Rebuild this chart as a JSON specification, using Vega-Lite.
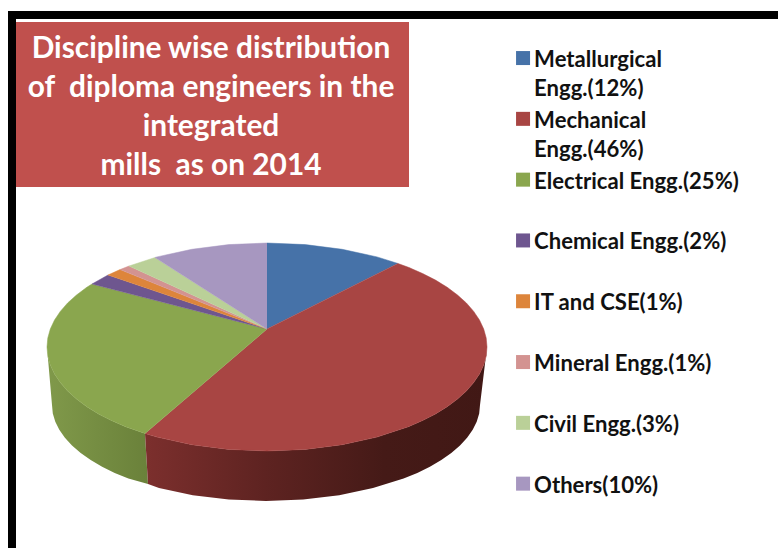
{"$schema":"https://vega.github.io/schema/vega-lite/v6.json","width":778,"height":548,"padding":0,"autosize":{"type":"none"},"background":"white","view":{"stroke":null},
"title":{"text":["Discipline wise distribution","\u00a0\u00a0of\u00a0\u00a0diploma engineers in the","integrated","mills\u00a0\u00a0as on 2014"],"anchor":"start","align":"center","dx":211,"offset":-181,"baseline":"top","color":"white","font":"Lato","fontWeight":"bold","fontSize":29.85,"lineHeight":39,"zindex":1},
"datasets":{
"slices":[
{"part":"Metallurgical Engg.(12%)","seq":0,"x":267,"y":329},{"part":"Metallurgical Engg.(12%)","seq":1,"x":267,"y":243},{"part":"Metallurgical Engg.(12%)","seq":2,"x":305.2,"y":244.6},{"part":"Metallurgical Engg.(12%)","seq":3,"x":342.2,"y":249.3},{"part":"Metallurgical Engg.(12%)","seq":4,"x":377,"y":256.9},{"part":"Metallurgical Engg.(12%)","seq":5,"x":398,"y":263.5},
{"part":"Mechanical Engg.(46%)","seq":0,"x":267,"y":329},{"part":"Mechanical Engg.(46%)","seq":1,"x":398,"y":263.5},{"part":"Mechanical Engg.(46%)","seq":2,"x":408.4,"y":267.3},{"part":"Mechanical Engg.(46%)","seq":2.5,"x":422.6,"y":273.5},{"part":"Mechanical Engg.(46%)","seq":3,"x":435.5,"y":280.1},{"part":"Mechanical Engg.(46%)","seq":3.5,"x":447.2,"y":287.3},{"part":"Mechanical Engg.(46%)","seq":4,"x":457.5,"y":295},{"part":"Mechanical Engg.(46%)","seq":4.5,"x":466.4,"y":303},{"part":"Mechanical Engg.(46%)","seq":5,"x":473.7,"y":311.4},{"part":"Mechanical Engg.(46%)","seq":5.5,"x":479.5,"y":320.1},{"part":"Mechanical Engg.(46%)","seq":6,"x":483.7,"y":329},{"part":"Mechanical Engg.(46%)","seq":6.5,"x":486.2,"y":337.9},{"part":"Mechanical Engg.(46%)","seq":7,"x":487,"y":347},{"part":"Mechanical Engg.(46%)","seq":7.5,"x":486.2,"y":356.1},{"part":"Mechanical Engg.(46%)","seq":8,"x":483.7,"y":365},{"part":"Mechanical Engg.(46%)","seq":8.5,"x":479.5,"y":373.9},{"part":"Mechanical Engg.(46%)","seq":9,"x":473.7,"y":382.6},{"part":"Mechanical Engg.(46%)","seq":9.5,"x":466.4,"y":391},{"part":"Mechanical Engg.(46%)","seq":10,"x":457.5,"y":399},{"part":"Mechanical Engg.(46%)","seq":10.5,"x":447.2,"y":406.7},{"part":"Mechanical Engg.(46%)","seq":11,"x":435.5,"y":413.9},{"part":"Mechanical Engg.(46%)","seq":11.5,"x":422.6,"y":420.5},{"part":"Mechanical Engg.(46%)","seq":12,"x":408.4,"y":426.7},{"part":"Mechanical Engg.(46%)","seq":13,"x":377,"y":437.1},{"part":"Mechanical Engg.(46%)","seq":14,"x":342.2,"y":444.7},{"part":"Mechanical Engg.(46%)","seq":15,"x":305.2,"y":449.4},{"part":"Mechanical Engg.(46%)","seq":16,"x":267,"y":451},{"part":"Mechanical Engg.(46%)","seq":17,"x":228.8,"y":449.4},{"part":"Mechanical Engg.(46%)","seq":18,"x":191.8,"y":444.7},{"part":"Mechanical Engg.(46%)","seq":19,"x":157,"y":437.1},{"part":"Mechanical Engg.(46%)","seq":20,"x":145,"y":433.5},
{"part":"Electrical Engg.(25%)","seq":0,"x":267,"y":329},{"part":"Electrical Engg.(25%)","seq":1,"x":145,"y":433.5},{"part":"Electrical Engg.(25%)","seq":2,"x":125.6,"y":426.7},{"part":"Electrical Engg.(25%)","seq":2.5,"x":111.4,"y":420.5},{"part":"Electrical Engg.(25%)","seq":3,"x":98.5,"y":413.9},{"part":"Electrical Engg.(25%)","seq":3.5,"x":86.8,"y":406.7},{"part":"Electrical Engg.(25%)","seq":4,"x":76.5,"y":399},{"part":"Electrical Engg.(25%)","seq":4.5,"x":67.6,"y":391},{"part":"Electrical Engg.(25%)","seq":5,"x":60.3,"y":382.6},{"part":"Electrical Engg.(25%)","seq":5.5,"x":54.5,"y":373.9},{"part":"Electrical Engg.(25%)","seq":6,"x":50.3,"y":365},{"part":"Electrical Engg.(25%)","seq":6.5,"x":47.8,"y":356.1},{"part":"Electrical Engg.(25%)","seq":7,"x":47,"y":347},{"part":"Electrical Engg.(25%)","seq":7.5,"x":47.8,"y":337.9},{"part":"Electrical Engg.(25%)","seq":8,"x":50.3,"y":329},{"part":"Electrical Engg.(25%)","seq":8.5,"x":54.5,"y":320.1},{"part":"Electrical Engg.(25%)","seq":9,"x":60.3,"y":311.4},{"part":"Electrical Engg.(25%)","seq":9.5,"x":67.6,"y":303},{"part":"Electrical Engg.(25%)","seq":10,"x":76.5,"y":295},{"part":"Electrical Engg.(25%)","seq":10.5,"x":86.8,"y":287.3},{"part":"Electrical Engg.(25%)","seq":11,"x":92,"y":284},
{"part":"Chemical Engg.(2%)","seq":0,"x":267,"y":329},{"part":"Chemical Engg.(2%)","seq":1,"x":92,"y":284},{"part":"Chemical Engg.(2%)","seq":2,"x":108,"y":275},
{"part":"IT and CSE(1%)","seq":0,"x":267,"y":329},{"part":"IT and CSE(1%)","seq":1,"x":108,"y":275},{"part":"IT and CSE(1%)","seq":2,"x":120,"y":269.6},
{"part":"Mineral Engg.(1%)","seq":0,"x":267,"y":329},{"part":"Mineral Engg.(1%)","seq":1,"x":120,"y":269.6},{"part":"Mineral Engg.(1%)","seq":2,"x":129,"y":266},
{"part":"Civil Engg.(3%)","seq":0,"x":267,"y":329},{"part":"Civil Engg.(3%)","seq":1,"x":129,"y":266},{"part":"Civil Engg.(3%)","seq":2,"x":155,"y":257.5},
{"part":"Others(10%)","seq":0,"x":267,"y":329},{"part":"Others(10%)","seq":1,"x":155,"y":257.5},{"part":"Others(10%)","seq":2,"x":157,"y":256.9},{"part":"Others(10%)","seq":3,"x":191.8,"y":249.3},{"part":"Others(10%)","seq":4,"x":228.8,"y":244.6},{"part":"Others(10%)","seq":5,"x":267,"y":243}
],
"wallGreen":[
{"seq":0,"x":47,"y":347},{"seq":0.5,"x":47.8,"y":356.1},{"seq":1,"x":50.3,"y":365},{"seq":1.5,"x":54.5,"y":373.9},{"seq":2,"x":60.3,"y":382.6},{"seq":2.5,"x":67.6,"y":391},{"seq":3,"x":76.5,"y":399},{"seq":3.5,"x":86.8,"y":406.7},{"seq":4,"x":98.5,"y":413.9},{"seq":4.5,"x":111.4,"y":420.5},{"seq":5,"x":125.6,"y":426.7},{"seq":6,"x":145,"y":433.5},{"seq":7,"x":148,"y":484},{"seq":8,"x":128.4,"y":478.5},{"seq":8.5,"x":114.7,"y":472.9},{"seq":9,"x":102.1,"y":466.7},{"seq":9.5,"x":90.7,"y":460.1},{"seq":10,"x":80.7,"y":453},{"seq":10.5,"x":72,"y":445.6},{"seq":11,"x":64.9,"y":437.8},{"seq":11.5,"x":59.3,"y":429.8},{"seq":12,"x":55.3,"y":421.7},{"seq":12.5,"x":52.8,"y":413.4},{"seq":13,"x":52,"y":405}
],
"wallRed":[
{"seq":0,"x":145,"y":433.5},{"seq":1,"x":157,"y":437.1},{"seq":2,"x":191.8,"y":444.7},{"seq":3,"x":228.8,"y":449.4},{"seq":4,"x":267,"y":451},{"seq":5,"x":305.2,"y":449.4},{"seq":6,"x":342.2,"y":444.7},{"seq":7,"x":377,"y":437.1},{"seq":8,"x":408.4,"y":426.7},{"seq":8.5,"x":422.6,"y":420.5},{"seq":9,"x":435.5,"y":413.9},{"seq":9.5,"x":447.2,"y":406.7},{"seq":10,"x":457.5,"y":399},{"seq":10.5,"x":466.4,"y":391},{"seq":11,"x":473.7,"y":382.6},{"seq":11.5,"x":479.5,"y":373.9},{"seq":12,"x":483.7,"y":365},{"seq":12.5,"x":486.2,"y":356.1},{"seq":13,"x":487,"y":347},{"seq":14,"x":480,"y":405},{"seq":14.5,"x":479.2,"y":413.4},{"seq":15,"x":476.7,"y":421.7},{"seq":15.5,"x":472.7,"y":429.8},{"seq":16,"x":467.1,"y":437.8},{"seq":16.5,"x":460,"y":445.6},{"seq":17,"x":451.3,"y":453},{"seq":17.5,"x":441.3,"y":460.1},{"seq":18,"x":429.9,"y":466.7},{"seq":18.5,"x":417.3,"y":472.9},{"seq":19,"x":403.6,"y":478.5},{"seq":20,"x":373,"y":488.1},{"seq":21,"x":339.2,"y":495.2},{"seq":22,"x":303.2,"y":499.5},{"seq":23,"x":266,"y":501},{"seq":24,"x":228.8,"y":499.5},{"seq":25,"x":192.8,"y":495.2},{"seq":26,"x":159,"y":488.1},{"seq":27,"x":148,"y":484}
],
"panels":[
{"panel":"frame top","x0":8,"x1":778,"y0":11,"y1":19,"tone":"frame"},{"panel":"frame left","x0":8,"x1":16,"y0":11,"y1":548,"tone":"frame"},{"panel":"title box","x0":16,"x1":409,"y0":22,"y1":187,"tone":"box"}
]
},
"resolve":{"scale":{"fill":"independent","stroke":"independent"}},
"layer":[
{"data":{"name":"panels"},"mark":{"type":"rect"},"encoding":{"x":{"field":"x0","type":"quantitative","scale":{"domain":[0,778],"range":[0,778],"nice":false,"zero":false},"axis":null},"x2":{"field":"x1"},"y":{"field":"y0","type":"quantitative","scale":{"domain":[0,548],"range":[0,548],"nice":false,"zero":false},"axis":null},"y2":{"field":"y1"},"fill":{"field":"tone","type":"nominal","scale":{"domain":["frame","box"],"range":["#000000","#C0504D"]},"legend":null}}},
{"data":{"name":"wallGreen"},"mark":{"type":"line","strokeWidth":0,"fill":{"gradient":"linear","x1":0,"y1":0,"x2":1,"y2":0,"stops":[{"offset":0,"color":"#80994A"},{"offset":1,"color":"#6A813A"}]}},"encoding":{"x":{"field":"x","type":"quantitative"},"y":{"field":"y","type":"quantitative"},"order":{"field":"seq"}}},
{"data":{"name":"wallRed"},"mark":{"type":"line","strokeWidth":0,"fill":{"gradient":"linear","x1":0,"y1":0,"x2":1,"y2":0,"stops":[{"offset":0,"color":"#7C2F2D"},{"offset":0.35,"color":"#5E2321"},{"offset":0.7,"color":"#451A17"},{"offset":1,"color":"#411815"}]}},"encoding":{"x":{"field":"x","type":"quantitative"},"y":{"field":"y","type":"quantitative"},"order":{"field":"seq"}}},
{"data":{"name":"slices"},"mark":{"type":"line","strokeWidth":0.5},"encoding":{"x":{"field":"x","type":"quantitative"},"y":{"field":"y","type":"quantitative"},"order":{"field":"seq"},
"fill":{"field":"part","type":"nominal","scale":{"domain":["Metallurgical Engg.(12%)","Mechanical Engg.(46%)","Electrical Engg.(25%)","Chemical Engg.(2%)","IT and CSE(1%)","Mineral Engg.(1%)","Civil Engg.(3%)","Others(10%)"],"range":["#4672A8","#A84543","#8AA64E","#6E568F","#DD853B","#D39391","#BAD098","#A797C0"]},
"legend":{"orient":"none","legendX":512,"legendY":47,"title":null,"symbolType":"square","symbolSize":196,"symbolStrokeWidth":0,"labelFont":"Lato","labelFontWeight":"bold","labelFontSize":22.1,"labelColor":"#111111","labelLimit":400,"labelOffset":0,"labelBaseline":"top","gridAlign":"all","rowPadding":6.8,"labelExpr":"test(/^Me/, datum.label) ? split(datum.label, ' ') : datum.label","encoding":{"labels":{"lineHeight":{"value":29},"dy":{"value":-8}}}}},
"stroke":{"field":"part","type":"nominal","legend":null,"scale":{"domain":["Metallurgical Engg.(12%)","Mechanical Engg.(46%)","Electrical Engg.(25%)","Chemical Engg.(2%)","IT and CSE(1%)","Mineral Engg.(1%)","Civil Engg.(3%)","Others(10%)"],"range":["#4672A8","#A84543","#8AA64E","#6E568F","#DD853B","#D39391","#BAD098","#A797C0"]}}}}
]}
